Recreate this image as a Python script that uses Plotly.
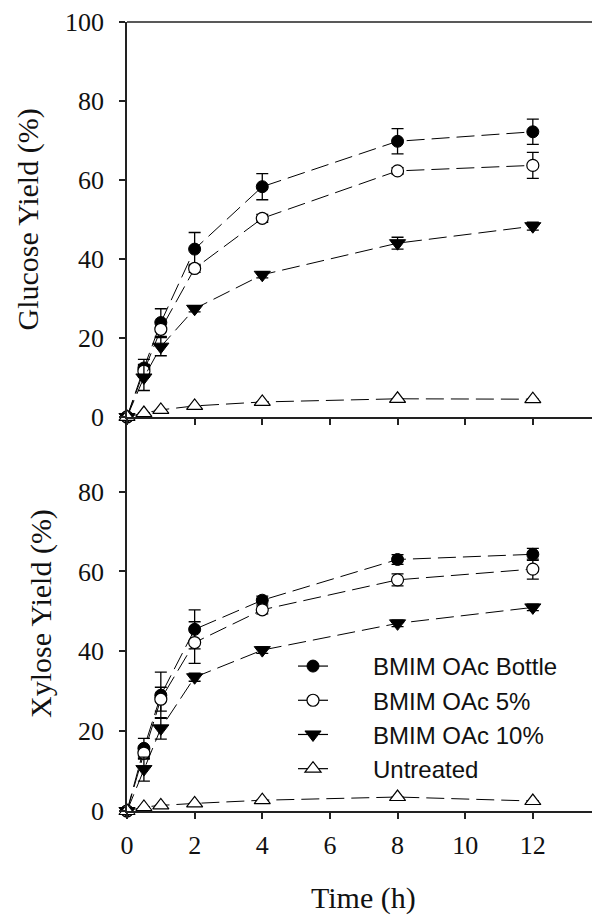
import plotly.graph_objects as go

time_h = [0, 0.5, 1, 2, 4, 8, 12]

series_names = ["BMIM OAc Bottle", "BMIM OAc 5%", "BMIM OAc 10%", "Untreated"]

glucose_bottle = [0, 12.4, 23.9, 42.5, 58.3, 69.8, 72.2]
glucose_bottle_err = [0, 2.2, 3.5, 4.2, 3.3, 3.2, 3.2]
glucose_5 = [0, 11.6, 22.2, 37.6, 50.3, 62.3, 63.7]
glucose_5_err = [0, 1.5, 2.0, 1.0, 1.0, 0.8, 3.3]
glucose_10 = [0, 10.0, 17.8, 27.4, 36.0, 44.0, 48.3]
glucose_10_err = [0, 3.3, 2.3, 0.8, 0.8, 1.5, 1.0]
glucose_untreated = [0, 1.0, 1.8, 2.8, 3.8, 4.6, 4.5]
glucose_untreated_err = [0, 0, 0, 0, 0, 0, 0]

xylose_bottle = [0, 15.7, 29.0, 45.5, 52.8, 63.0, 64.3]
xylose_bottle_err = [0, 2.5, 5.8, 4.9, 1.0, 1.2, 1.5]
xylose_5 = [0, 14.5, 28.0, 42.2, 50.4, 57.9, 60.6]
xylose_5_err = [0, 1.5, 3.0, 5.2, 1.0, 1.5, 2.5]
xylose_10 = [0, 10.5, 20.7, 33.5, 40.3, 47.0, 51.0]
xylose_10_err = [0, 3.0, 2.7, 1.0, 0.8, 0.8, 0.8]
xylose_untreated = [0, 1.0, 1.4, 1.9, 2.7, 3.5, 2.5]
xylose_untreated_err = [0, 0, 0, 0, 0, 0, 0]

x_ticks = [0, 2, 4, 6, 8, 10, 12]
glucose_ticks = [0, 20, 40, 60, 80, 100]
xylose_ticks = [0, 20, 40, 60, 80]

styles = [
    dict(symbol="circle", size=12, color="black", line=dict(color="black", width=1)),
    dict(symbol="circle", size=12, color="white", line=dict(color="black", width=1.2)),
    dict(symbol="triangle-down", size=14, color="black", line=dict(color="black", width=1)),
    dict(symbol="triangle-up", size=14, color="white", line=dict(color="black", width=1.2)),
]

DASH = "18px,7px"
SERIF = "Liberation Serif"
SANS = "Liberation Sans"
PAD = "\u00a0" * 6  # gap between legend symbol and label

fig = go.Figure()

glucose = [(glucose_bottle, glucose_bottle_err), (glucose_5, glucose_5_err),
           (glucose_10, glucose_10_err), (glucose_untreated, glucose_untreated_err)]
xylose = [(xylose_bottle, xylose_bottle_err), (xylose_5, xylose_5_err),
          (xylose_10, xylose_10_err), (xylose_untreated, xylose_untreated_err)]

for panel, (xa, ya) in ((glucose, ("x2", "y2")), (xylose, ("x", "y"))):
    for i, (vals, err) in enumerate(panel):
        fig.add_trace(go.Scatter(
            x=time_h, y=vals, mode="lines+markers", name=series_names[i],
            xaxis=xa, yaxis=ya, showlegend=False, cliponaxis=False,
            line=dict(color="black", width=1, dash=DASH),
            marker=styles[i],
            error_y=dict(type="data", array=err, visible=True, color="black",
                         thickness=1.3, width=6),
        ))

# legend entries (solid short line + marker, as in the original key)
for i, name in enumerate(series_names):
    fig.add_trace(go.Scatter(
        x=[None], y=[None], mode="lines+markers", name=PAD + name,
        xaxis="x", yaxis="y", showlegend=True,
        line=dict(color="black", width=1.2), marker=styles[i],
    ))

split = 0.4994
axis_common = dict(showline=True, linecolor="#222", linewidth=1.5, ticks="outside",
                   ticklen=6, tickwidth=1.5, tickcolor="#222", showgrid=False,
                   zeroline=False, tickfont=dict(family=SERIF, size=26, color="#111"))

fig.update_layout(
    width=592, height=915,
    margin=dict(l=127, r=0, t=22, b=104),
    paper_bgcolor="white", plot_bgcolor="white",
    xaxis=dict(axis_common, domain=[0, 1], range=[0, 13.75], tickvals=x_ticks,
               anchor="y", ticklabelstandoff=4),
    yaxis=dict(axis_common, domain=[0, split], range=[0, 98.7], tickvals=xylose_ticks,
               anchor="x", ticklabelstandoff=10),
    xaxis2=dict(axis_common, domain=[0, 1], range=[0, 13.75], tickvals=x_ticks,
                showticklabels=False, anchor="y2", mirror=False),
    yaxis2=dict(axis_common, domain=[split, 1], range=[0, 100], tickvals=glucose_ticks,
                anchor="x2", ticklabelstandoff=10),
    legend=dict(x=0.357, y=0.2117, xanchor="left", yanchor="top",
                font=dict(family=SANS, size=24, color="#111"),
                bgcolor="rgba(0,0,0,0)", itemwidth=30, tracegroupgap=0),
    shapes=[dict(type="line", xref="paper", yref="paper", x0=0, x1=1, y0=1, y1=1,
                 line=dict(color="#222", width=1.5))],
    annotations=[
        dict(text="Glucose Yield (%)", xref="paper", yref="paper", x=0, y=(1 + split) / 2,
             xanchor="center", yanchor="middle", textangle=-90, showarrow=False,
             xshift=-99, font=dict(family=SERIF, size=30, color="#111")),
        dict(text="Xylose Yield (%)", xref="paper", yref="paper", x=0, y=split / 2,
             xanchor="center", yanchor="middle", textangle=-90, showarrow=False,
             xshift=-86, font=dict(family=SERIF, size=30, color="#111")),
        dict(text="Time (h)", xref="paper", yref="paper", x=0.508, y=0,
             xanchor="center", yanchor="middle", showarrow=False,
             yshift=-87, font=dict(family=SERIF, size=30, color="#111")),
    ],
)

fig.write_html("out.html")
